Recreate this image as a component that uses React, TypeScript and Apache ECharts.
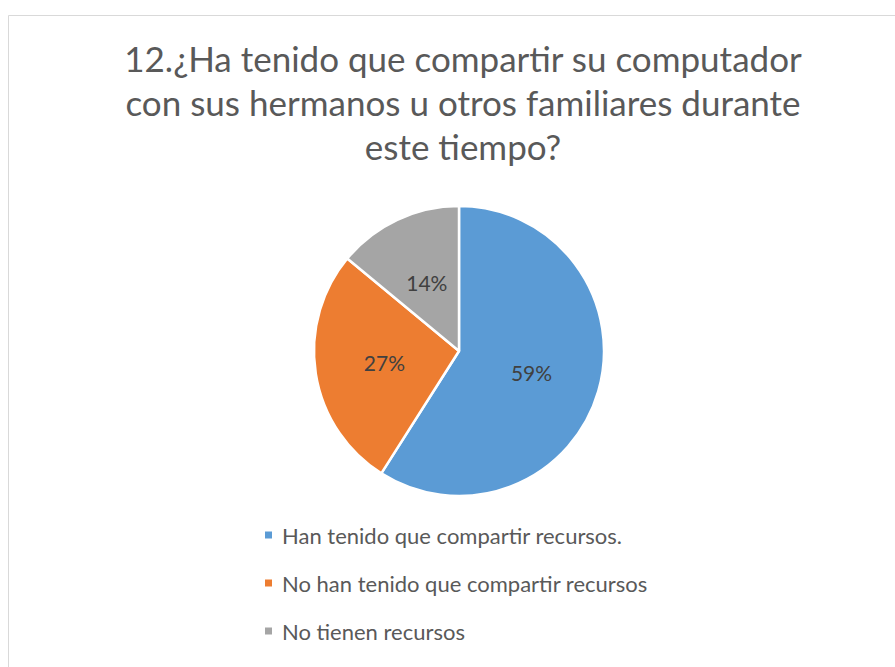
import React, { useEffect, useRef } from "react";
import * as echarts from "echarts";

const titleLines = [
  "12.¿Ha tenido que compartir su computador",
  "con sus hermanos u otros familiares durante",
  "este tiempo?",
];
const categories = [
  "Han tenido que compartir recursos.",
  "No han tenido que compartir recursos",
  "No tienen recursos",
];
const values = [59, 27, 14];
const colors = ["#5B9BD5", "#ED7D31", "#A5A5A5"];

const FONT = "Lato, 'Liberation Sans', sans-serif";

export default function App() {
  const ref = useRef<HTMLDivElement>(null);
  useEffect(() => {
    if (!ref.current) return;
    const chart = echarts.init(ref.current, undefined, { renderer: "svg" });
    chart.setOption({
      animation: false,
      backgroundColor: "#ffffff",
      graphic: [
        {
          type: "rect",
          shape: { x: 8.5, y: 15.5, width: 900, height: 700 },
          style: { fill: "none", stroke: "#d9d9d9", lineWidth: 1 },
          silent: true,
        },
      ],
      title: {
        text: titleLines.join("\n"),
        left: 458,
        textAlign: "center",
        top: 31,
        textStyle: {
          fontFamily: FONT,
          fontSize: 35,
          fontWeight: "normal",
          color: "#595959",
          lineHeight: 44,
        },
      },
      legend: {
        orient: "vertical",
        left: 258,
        top: 519,
        itemWidth: 9,
        itemHeight: 9,
        itemGap: 26,
        icon: "rect",
        data: categories,
        textStyle: {
          fontFamily: FONT,
          fontSize: 22,
          color: "#595959",
          lineHeight: 22,
          padding: [0, 0, 0, 4],
        },
      },
      series: [
        {
          type: "pie",
          center: [459, 351],
          radius: 145,
          startAngle: 90,
          clockwise: true,
          data: categories.map((c, i) => ({
            name: c,
            value: values[i],
            itemStyle: { color: colors[i] },
          })),
          itemStyle: { borderColor: "#ffffff", borderWidth: 2.5 },
          label: {
            show: true,
            position: "inside",
            formatter: "{c}%",
            fontFamily: FONT,
            fontSize: 21,
            color: "#404040",
          },
          labelLine: { show: false },
          emphasis: { disabled: true },
        },
      ],
    });
    return () => chart.dispose();
  }, []);
  return (
    <div
      ref={ref}
      style={{ position: "fixed", left: 0, top: 0, width: 895, height: 667 }}
    />
  );
}
